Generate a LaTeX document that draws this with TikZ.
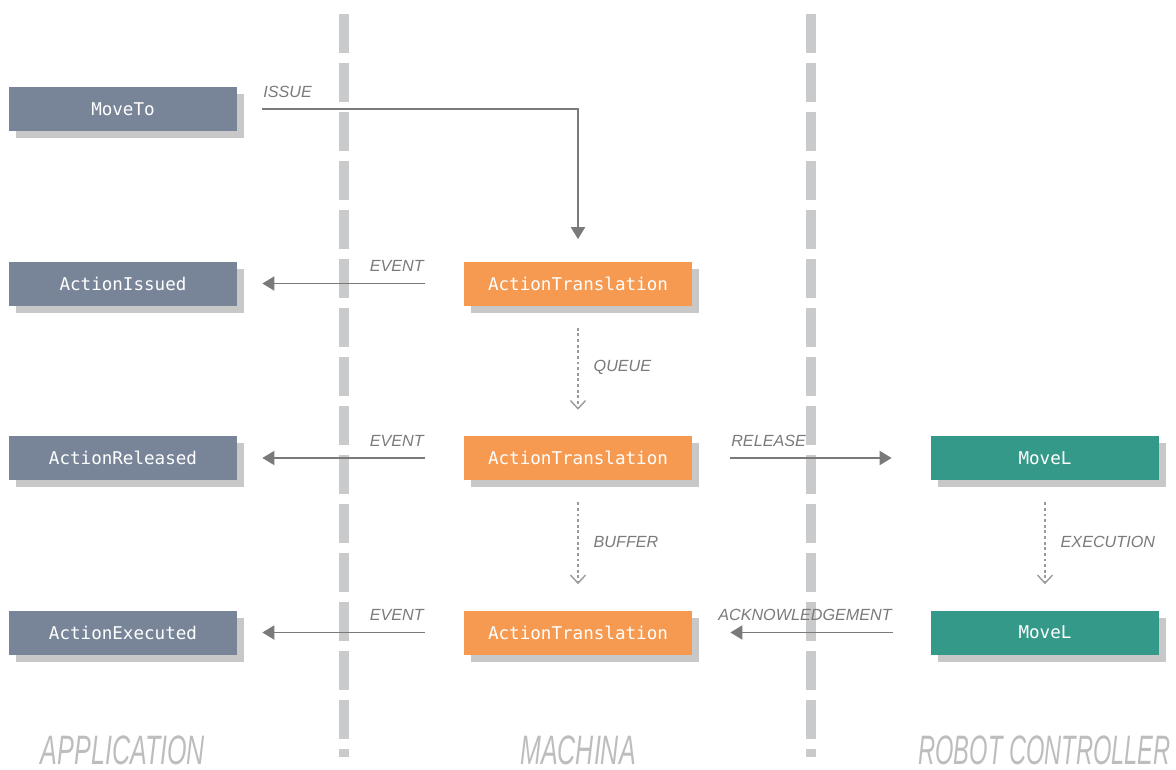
\documentclass[tikz,border=0pt]{standalone}
\usepackage{fontspec}
\setmainfont{Liberation Sans}
\setmonofont{DejaVu Sans Mono}
\usepackage{graphicx}
\usepackage{tikz}
\usetikzlibrary{arrows.meta, shadows}
\definecolor{slate}{HTML}{788599}
\definecolor{machorange}{HTML}{F79A51}
\definecolor{robotteal}{HTML}{35998A}
\definecolor{shadowgray}{HTML}{C8C8C8}
\definecolor{dividergray}{HTML}{C9CACC}
\definecolor{linegray}{HTML}{7A7A7A}
\definecolor{dotgray}{HTML}{9A9A9A}
\definecolor{titlegray}{HTML}{BDBDBD}
\newcommand{\condensed}[2][0.6]{\scalebox{#1}[1]{#2}}
\tikzstyle{box} = [rectangle, minimum width=4.56cm, minimum height=0.88cm, inner sep=0pt, text centered, text=white, font=\ttfamily\fontsize{10}{12}\selectfont, drop shadow={shadow xshift=0.14cm, shadow yshift=-0.14cm, fill=shadowgray, opacity=1}]
\tikzstyle{app} = [box, fill=slate]
\tikzstyle{machina} = [box, fill=machorange]
\tikzstyle{robot} = [box, fill=robotteal]
\tikzstyle{tag} = [inner sep=0pt, text=linegray, font=\itshape\fontsize{9.2}{11}\selectfont]
\tikzstyle{coltitle} = [inner sep=0pt, anchor=base, text=titlegray, font=\itshape\fontsize{23.4}{26}\selectfont]
\tikzstyle{divider} = [draw=dividergray, line width=0.2cm, dash pattern=on 0.78cm off 0.2cm]
\tikzstyle{arrow} = [draw=linegray, line width=1.1pt, -{Triangle[length=0.24cm,width=0.28cm]}]
\tikzstyle{dotarrow} = [draw=dotgray, line width=0.8pt, dash pattern=on 1.6pt off 1.6pt, -{Straight Barb[length=0.16cm,width=0.3cm]}]

\begin{document}
\begin{tikzpicture}[node distance=3.49cm]
\useasboundingbox (0,0) rectangle (23.52,-15.38);

% Lane dividers
\draw [divider] (6.88,-0.28) -- (6.88,-15.14);
\draw [divider] (16.22,-0.28) -- (16.22,-15.14);

% Nodes
\node (moveto) [app] at (2.46,-2.18) {MoveTo};
\node (issued) [app, below of=moveto] {ActionIssued};
\node (released) [app, below of=issued] {ActionReleased};
\node (executed) [app, below of=released] {ActionExecuted};
\node (queued) [machina, right of=issued, node distance=9.1cm] {ActionTranslation};
\node (buffered) [machina, below of=queued] {ActionTranslation};
\node (sent) [machina, below of=buffered] {ActionTranslation};
\node (movel) [robot, right of=buffered, node distance=9.34cm] {MoveL};
\node (done) [robot, below of=movel] {MoveL};

% Lane titles
\node (apptitle) [coltitle] at (2.46,-15.28) {\condensed[0.61]{APPLICATION}};
\node (machtitle) [coltitle] at (11.56,-15.28) {\condensed[0.61]{MACHINA}};
\node (robottitle) [coltitle] at (20.89,-15.28) {\condensed[0.575]{ROBOT CONTROLLER}};

% Arrows
\draw [arrow, shorten <=0.5cm, shorten >=0.44cm] (moveto.east) -| (queued.north) node [pos=0, tag, anchor=base west, xshift=0.5cm, yshift=0.24cm] {ISSUE};
\draw [arrow, shorten <=0.78cm, shorten >=0.5cm] (queued.west) -- (issued.east) node [pos=0, tag, anchor=base east, xshift=-0.78cm, yshift=0.24cm] {EVENT};
\draw [arrow, shorten <=0.78cm, shorten >=0.5cm] (buffered.west) -- (released.east) node [pos=0, tag, anchor=base east, xshift=-0.78cm, yshift=0.24cm] {EVENT};
\draw [arrow, shorten <=0.78cm, shorten >=0.5cm] (sent.west) -- (executed.east) node [pos=0, tag, anchor=base east, xshift=-0.78cm, yshift=0.24cm] {EVENT};
\draw [arrow, shorten <=0.76cm, shorten >=0.78cm] (buffered.east) -- (movel.west) node [pos=0, tag, anchor=base west, xshift=0.76cm, yshift=0.24cm] {RELEASE};
\draw [arrow, shorten <=0.76cm, shorten >=0.76cm] (done.west) -- (sent.east) node [pos=0, tag, anchor=base east, xshift=-0.76cm, yshift=0.24cm] {ACKNOWLEDGEMENT};
\draw [dotarrow, shorten <=0.44cm, shorten >=0.52cm] (queued.south) -- (buffered.north) node [midway, tag, anchor=west, xshift=0.3cm, yshift=0.06cm] {QUEUE};
\draw [dotarrow, shorten <=0.44cm, shorten >=0.52cm] (buffered.south) -- (sent.north) node [midway, tag, anchor=west, xshift=0.3cm, yshift=0.06cm] {BUFFER};
\draw [dotarrow, shorten <=0.44cm, shorten >=0.52cm] (movel.south) -- (done.north) node [midway, tag, anchor=west, xshift=0.3cm, yshift=0.06cm] {EXECUTION};

\end{tikzpicture}
\end{document}
